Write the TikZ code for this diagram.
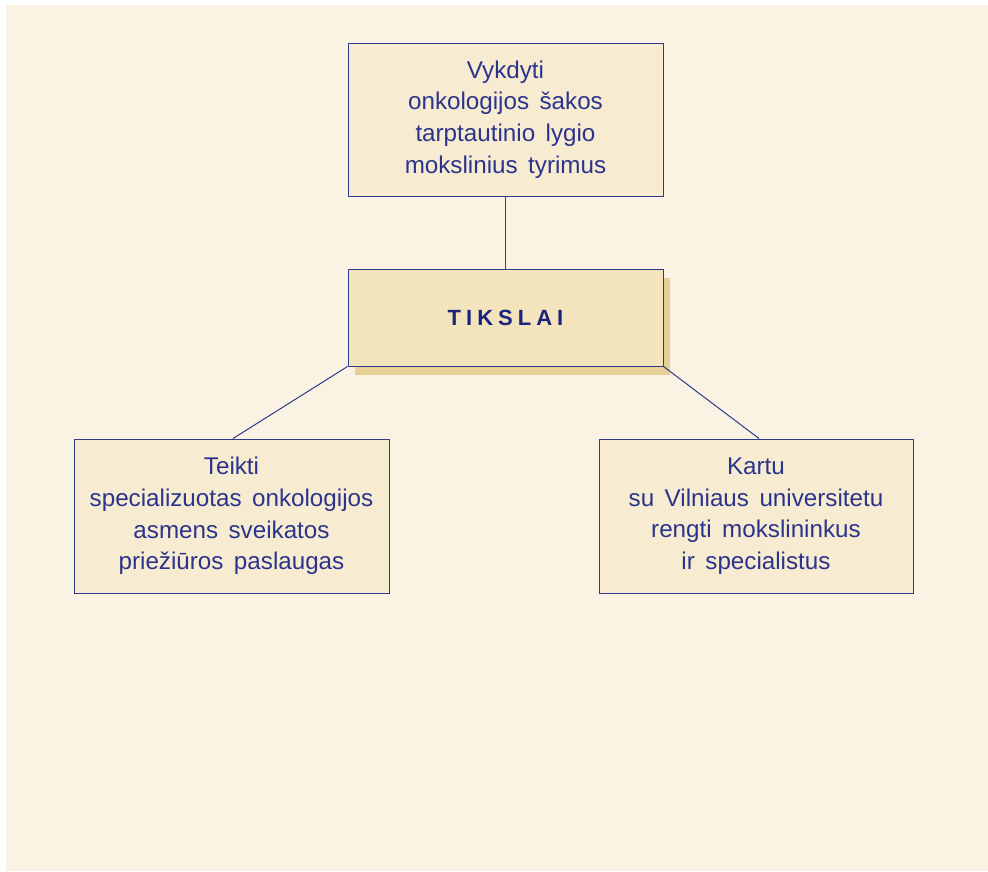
\documentclass[tikz,border=0pt]{standalone}
\usepackage{fontspec}
\setmainfont{Liberation Sans}
\usetikzlibrary{shadows}
\definecolor{bgc}{RGB}{250,243,228}
\definecolor{boxc}{RGB}{247,236,209}
\definecolor{midc}{RGB}{243,228,190}
\definecolor{shadc}{RGB}{230,208,148}
\definecolor{linec}{RGB}{46,58,140}
\definecolor{txtc}{RGB}{43,52,140}
\definecolor{titc}{RGB}{26,36,122}
\newcommand{\ls}{\hspace{5pt}}
\newcommand{\goalfont}{\fontsize{24.2}{31.6}\selectfont\spaceskip=10.5pt\relax}
\tikzset{
  goalbox/.style={draw=linec, line width=1pt, fill=boxc, rectangle, align=center,
    text=txtc, font=\goalfont,
    minimum width=315pt, inner sep=0pt},
  titlebox/.style={draw=linec, line width=1pt, fill=midc, rectangle,
    minimum width=315pt, minimum height=97pt, inner sep=0pt,
    text=titc, font=\fontsize{22}{26}\selectfont\bfseries,
    drop shadow={shadow xshift=7pt, shadow yshift=-9pt, fill=shadc, opacity=1}},
  conn/.style={draw=linec, line width=1pt}
}
\begin{document}
\begin{tikzpicture}[x=1pt,y=-1pt]
\fill[white] (0,0) rectangle (988,871);
\fill[bgc] (6,5) rectangle (988,871);
\useasboundingbox (0,0) rectangle (988,871);
\node[goalbox, minimum height=153pt] (top) at (505.5,119.5)
  {\raisebox{-1.5pt}{}Vykdyti\\onkologijos šakos\\tarptautinio lygio\\mokslinius tyrimus};
\node[titlebox] (mid) at (505.5,317.5) {T\ls I\ls K\ls S\ls L\ls A\ls I};
\node[goalbox, minimum height=154pt] (left) at (231.5,516)
  {Teikti\\specializuotas onkologijos\\asmens sveikatos\\priežiūros paslaugas};
\node[goalbox, minimum height=154pt, minimum width=314pt] (right) at (756,516)
  {Kartu\\su Vilniaus universitetu\\rengti mokslininkus\\ir specialistus};
\draw[conn] (top.south) -- (mid.north);
\draw[conn] (mid.south west) -- ([xshift=1.5pt]left.north);
\draw[conn] (mid.south east) -- ([xshift=3pt]right.north);
\end{tikzpicture}
\end{document}
